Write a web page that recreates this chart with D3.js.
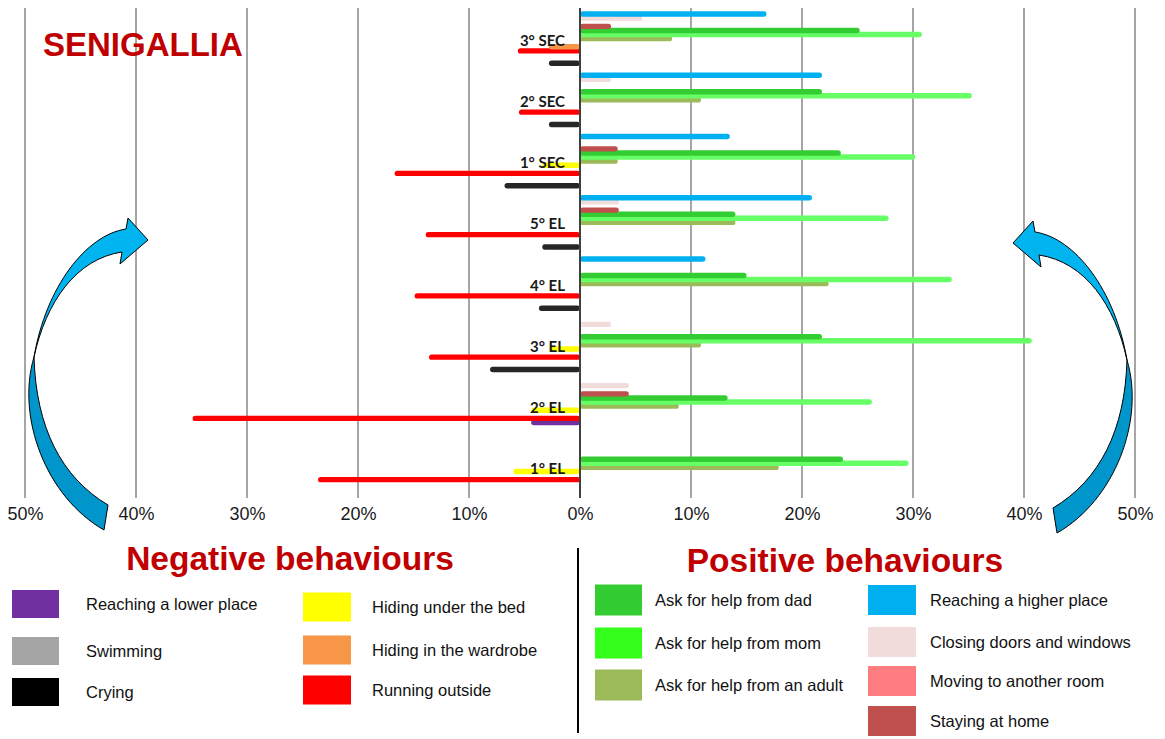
<!DOCTYPE html>
<html>
<head>
<meta charset="utf-8">
<script src="https://cdn.jsdelivr.net/npm/d3@7"></script>
<style>
  html, body { margin: 0; padding: 0; background: #fff; }
  svg { display: block; }
</style>
</head>
<body>
<div id="chart"></div>
<script>
// ---------------- DATA ----------------
const categories = ["3° SEC", "2° SEC", "1° SEC", "5° EL", "4° EL", "3° EL", "2° EL", "1° EL"];

// series listed top-to-bottom inside each category group (values in %)
// negative behaviours are stored as negative values (drawn to the left)
const seriesNames = [
  "Reaching a higher place", "Closing doors and windows", "Moving to another room", "Staying at home",
  "Ask for help from dad", "Ask for help from mom", "Ask for help from an adult",
  "Hiding under the bed", "Hiding in the wardrobe", "Running outside",
  "Reaching a lower place", "Swimming", "Crying"
];
const reachingHigher = [16.8, 21.8, 13.5, 20.9, 11.3, 0, 0, 0];
const closingDoors   = [5.6, 2.8, 0, 3.5, 0, 2.8, 4.4, 0];
const movingRoom     = [0, 0, 0, 0, 0, 0, 0, 0];
const stayingHome    = [2.8, 0, 3.4, 3.5, 0, 0, 4.4, 0];
const askDad         = [25.2, 21.8, 23.5, 14.0, 15.0, 21.8, 13.3, 23.7];
const askMom         = [30.8, 35.3, 30.2, 27.8, 33.5, 40.7, 26.3, 29.6];
const askAdult       = [8.3, 10.9, 3.4, 14.0, 22.4, 10.9, 8.9, 17.9];
const hidingBed      = [0, 0, -3.4, 0, 0, -2.8, -4.4, -6.0];
const hidingWardrobe = [-2.8, 0, 0, 0, 0, 0, 0, 0];
const runningOutside = [-5.6, -5.5, -16.7, -13.9, -14.9, -13.6, -34.9, -23.6];
const reachingLower  = [0, 0, 0, 0, 0, 0, -4.4, 0];
const swimming       = [0, 0, 0, 0, 0, 0, 0, 0];
const crying         = [-2.8, -2.8, -6.8, -3.4, -3.7, -8.1, 0, 0];

const seriesValues = [reachingHigher, closingDoors, movingRoom, stayingHome, askDad, askMom, askAdult,
  hidingBed, hidingWardrobe, runningOutside, reachingLower, swimming, crying];

const legendColors = {
  "Reaching a higher place": "#00b0f0", "Closing doors and windows": "#f2dcdb",
  "Moving to another room": "#ff7c80", "Staying at home": "#c0504d",
  "Ask for help from dad": "#33cc33", "Ask for help from mom": "#33ff1a",
  "Ask for help from an adult": "#9bbb59", "Hiding under the bed": "#ffff00",
  "Hiding in the wardrobe": "#f79646", "Running outside": "#ff0000",
  "Reaching a lower place": "#7030a0", "Swimming": "#a5a5a5", "Crying": "#000000"
};
const barColors = Object.assign({}, legendColors, {
  "Ask for help from mom": "#66ff66", "Crying": "#262626"
});

const xTicks = [-50, -40, -30, -20, -10, 0, 10, 20, 30, 40, 50];

const negCol1 = ["Reaching a lower place", "Swimming", "Crying"];
const negCol2 = ["Hiding under the bed", "Hiding in the wardrobe", "Running outside"];
const posCol1 = ["Ask for help from dad", "Ask for help from mom", "Ask for help from an adult"];
const posCol2 = ["Reaching a higher place", "Closing doors and windows", "Moving to another room", "Staying at home"];

// ---------------- CHART ----------------
const W = 1165, H = 739;
const svg = d3.select("#chart").append("svg").attr("width", W).attr("height", H)
  .style("font-family", "'Liberation Sans', Arial, sans-serif");
svg.append("rect").attr("width", W).attr("height", H).attr("fill", "#fff");

const plotTop = 8, plotBottom = 498;
const x = d3.scaleLinear().domain([-50, 50]).range([25, 1135]);
const y = d3.scaleBand().domain(categories).range([plotTop, plotBottom]).paddingInner(0).paddingOuter(0);
const ys = d3.scaleBand().domain(seriesNames).range([0, y.bandwidth()]).paddingInner(0).paddingOuter(0.97);

// gridlines
svg.append("g").selectAll("line").data(xTicks.filter(d => d !== 0)).join("line")
  .attr("x1", d => x(d)).attr("x2", d => x(d))
  .attr("y1", plotTop).attr("y2", plotBottom)
  .attr("stroke", "#a6a6a6").attr("stroke-width", 2);

// tick labels via axis
const axis = d3.axisBottom(x).tickValues(xTicks).tickSize(0).tickFormat(d => Math.abs(d) + "%");
const gAxis = svg.append("g").attr("transform", `translate(0,${plotBottom + 6})`).call(axis);
gAxis.select(".domain").remove();
gAxis.selectAll("text").attr("font-size", 18).attr("fill", "#1a1a1a")
  .attr("font-family", "'Liberation Sans', Arial, sans-serif");

// bars (drawn bottom series first so upper series lie on top)
const barH = 5.4;
const bars = [];
seriesNames.forEach((s, si) => {
  seriesValues[si].forEach((v, ci) => {
    if (v !== 0) bars.push({ s, si, cat: categories[ci], v });
  });
});
bars.sort((a, b) => b.si - a.si);
svg.append("g").selectAll("rect").data(bars).join("rect")
  .attr("x", d => Math.min(x(0), x(d.v)))
  .attr("width", d => Math.abs(x(d.v) - x(0)))
  .attr("y", d => y(d.cat) + ys(d.s) + ys.bandwidth() / 2 - barH / 2)
  .attr("height", barH)
  .attr("rx", 2.7)
  .attr("fill", d => barColors[d.s]);

// zero axis line
svg.append("line").attr("x1", x(0)).attr("x2", x(0)).attr("y1", plotTop).attr("y2", plotBottom)
  .attr("stroke", "#404040").attr("stroke-width", 2);

// category labels
svg.append("g").selectAll("text").data(categories).join("text")
  .attr("x", x(0) - 15).attr("y", d => y(d) + y.bandwidth() / 2 + 1)
  .attr("text-anchor", "end").attr("dominant-baseline", "central")
  .attr("font-family", "Lato, 'Open Sans', sans-serif").attr("font-weight", "bold")
  .attr("font-size", 15).attr("fill", "#1a1a1a")
  .text(d => d);

// title
svg.append("text").attr("x", 43).attr("y", 56).attr("font-size", 33).attr("font-weight", "bold")
  .attr("fill", "#c00000").text("SENIGALLIA");

// curved arrows (decoration)
function arrow(g) {
  g.append("path")
    .attr("d", "M1127,360 C1145,420 1115,500 1057,533 L1053,508 C1100,480 1125,430 1127,360 Z")
    .attr("fill", "#0096cc").attr("stroke", "#000").attr("stroke-width", 1);
  g.append("path")
    .attr("d", "M1013,243 L1033,221 L1035,232 C1075,238 1115,290 1127,360 C1115,305 1085,262 1039,255 L1041,267 Z")
    .attr("fill", "#00b4f0").attr("stroke", "#000").attr("stroke-width", 1);
}
arrow(svg.append("g"));
arrow(svg.append("g").attr("transform", "translate(1161,-3) scale(-1,1)"));

// ---------------- LEGEND ----------------
svg.append("line").attr("x1", 578).attr("x2", 578).attr("y1", 548).attr("y2", 733)
  .attr("stroke", "#000").attr("stroke-width", 2);

svg.append("text").attr("x", 290).attr("y", 570).attr("text-anchor", "middle")
  .attr("font-size", 33.5).attr("font-weight", "bold").attr("fill", "#c00000").text("Negative behaviours");
svg.append("text").attr("x", 845).attr("y", 572).attr("text-anchor", "middle")
  .attr("font-size", 33.5).attr("font-weight", "bold").attr("fill", "#c00000").text("Positive behaviours");

function legendCol(items, sx, tx, centers, sw, sh) {
  const g = svg.append("g");
  const it = g.selectAll("g").data(items).join("g");
  it.append("rect").attr("x", sx).attr("y", (d, i) => centers[i] - sh / 2)
    .attr("width", sw).attr("height", sh).attr("fill", d => legendColors[d]);
  it.append("text").attr("x", tx).attr("y", (d, i) => centers[i]).attr("dominant-baseline", "central")
    .attr("font-size", 16.5).attr("fill", "#111").text(d => d);
}
legendCol(negCol1, 12, 86, [604, 651, 692], 47, 28);
legendCol(negCol2, 303, 372, [607, 650, 690], 48, 29);
legendCol(posCol1, 595, 655, [600, 643, 685], 47, 31);
legendCol(posCol2, 868, 930, [600, 642, 681, 721], 48, 30);
</script>
</body>
</html>
